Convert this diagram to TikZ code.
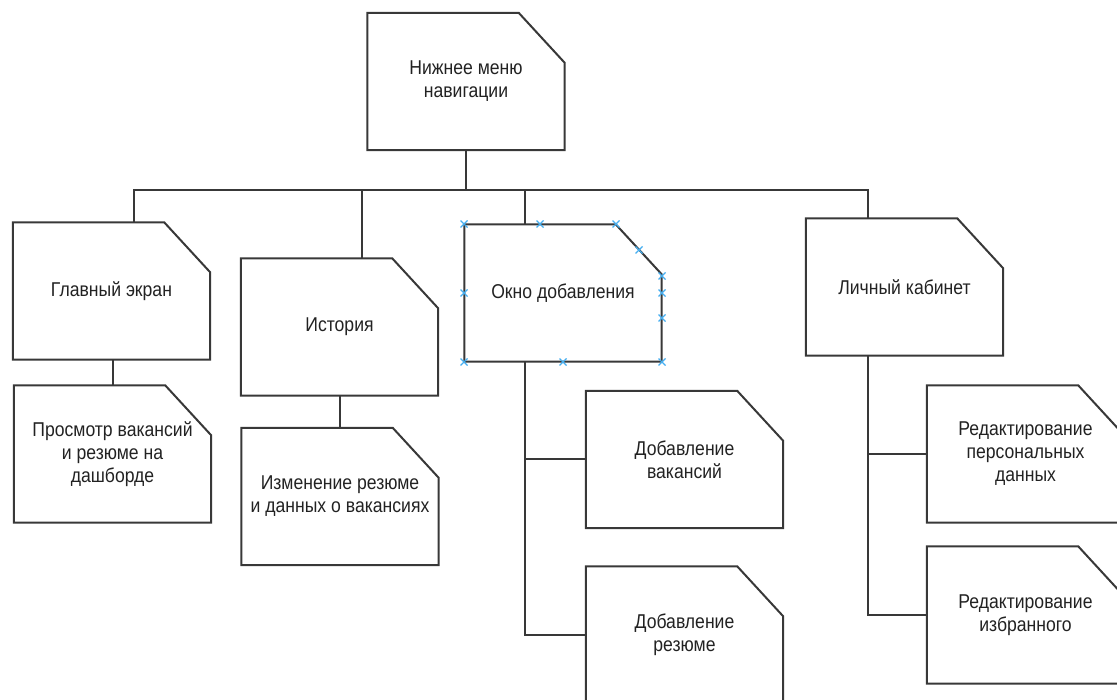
\documentclass[tikz,border=0pt]{standalone}
\usepackage{fontspec}
\setmainfont{Liberation Sans}[FakeStretch=0.88]
\definecolor{linegray}{HTML}{383838}
\definecolor{textgray}{HTML}{222222}
\definecolor{handleblue}{HTML}{45AEF0}
\begin{document}
\begin{tikzpicture}[x=1pt, y=-1pt,
        card/.style = {minimum width = 197pt, minimum height = 137pt, inner sep = 0pt, align = center, text = textgray, font = \fontsize{20}{23}\selectfont},
        wire/.style = {draw = linegray, line width = 2pt},
        handle/.style = {draw = handleblue, line width = 1.4pt}]
            \useasboundingbox (0,0) rectangle (1117,700);
            \node[card] (nav) at (466,81.5) {Нижнее меню\\навигации};
            \node[card] (main) at (111.5,291) {Главный экран};
            \node[card] (view) at (112.5,454) {Просмотр вакансий\\и резюме на\\дашборде};
            \node[card] (hist) at (339.5,327) {История};
            \node[card] (edit) at (340,496.5) {Изменение резюме\\и данных о вакансиях};
            \node[card] (add) at (563,293) {Окно добавления};
            \node[card] (addvac) at (684.5,459.5) {Добавление\\вакансий};
            \node[card] (addres) at (684.5,635) {Добавление\\резюме};
            \node[card] (cab) at (904.5,287) {Личный кабинет};
            \node[card] (edpers) at (1025.5,454) {Редактирование\\персональных\\данных};
            \node[card] (edfav) at (1025.5,615) {Редактирование\\избранного};
            \foreach \n in {nav, main, view, hist, edit, add, addvac, addres, cab, edpers, edfav}
                \draw[wire] (\n.north west) -- ([xshift=-46pt]\n.north east) -- ([yshift=-50pt]\n.north east) -- (\n.south east) -- (\n.south west) -- cycle;
            \coordinate (bus) at (0,190);
            \draw[wire] (nav.south) -- (nav.south |- bus);
            \draw[wire] ([xshift=22pt]main.north) -- ([xshift=22pt]main.north |- bus) -- ([xshift=-37pt]cab.north |- bus) -- ([xshift=-37pt]cab.north);
            \draw[wire] ([xshift=22pt]hist.north) -- ([xshift=22pt]hist.north |- bus);
            \draw[wire] ([xshift=-38pt]add.north) -- ([xshift=-38pt]add.north |- bus);
            \draw[wire] (view.north) -- (view.north |- main.south);
            \draw[wire] (edit.north) -- (edit.north |- hist.south);
            \draw[wire] ([xshift=-38pt]add.south) |- (addvac.west);
            \draw[wire] ([xshift=-38pt]add.south) |- (addres.west);
            \draw[wire] ([xshift=-37pt]cab.south) |- (edpers.west);
            \draw[wire] ([xshift=-37pt]cab.south) |- (edfav.west);
            \foreach \hx/\hy in {464/224, 540/224, 616/224, 639/250, 662/276, 662/293, 662/318, 662/362, 563/362, 464/362, 464/293}
                \draw[handle] (\hx,\hy) +(-3.5,-3.5) -- +(3.5,3.5) +(-3.5,3.5) -- +(3.5,-3.5);
        \end{tikzpicture}
\end{document}
